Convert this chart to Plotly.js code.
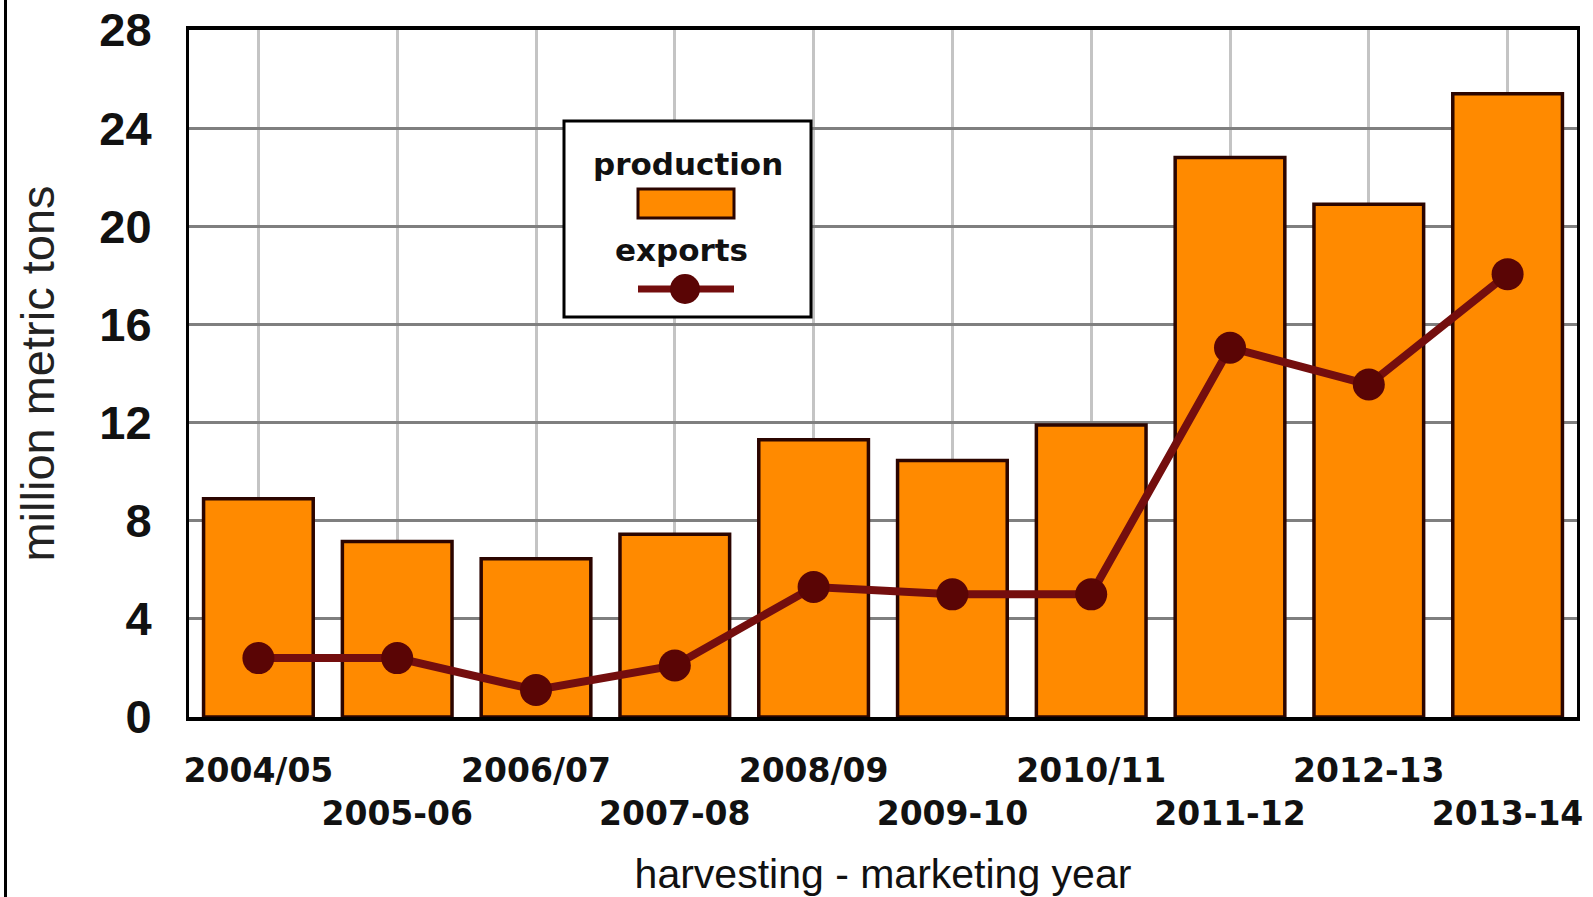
<!DOCTYPE html>
<html>
<head>
<meta charset="utf-8">
<script src="https://cdn.plot.ly/plotly-3.0.1.min.js"></script>
<style>
  html, body { margin: 0; padding: 0; background: #ffffff; }
  #chart { width: 1593px; height: 897px; }
</style>
</head>
<body>
<div id="chart"></div>
<script>
// Marketing years (harvesting - marketing year)
const years = ['2004/05', '2005-06', '2006/07', '2007-08', '2008/09',
               '2009-10', '2010/11', '2011-12', '2012-13', '2013-14'];
// Production, million metric tons
const production = [8.9, 7.15, 6.45, 7.45, 11.3, 10.45, 11.9, 22.8, 20.9, 25.4];
// Exports, million metric tons
const exportsVol = [2.4, 2.4, 1.1, 2.1, 5.3, 5.0, 5.0, 15.05, 13.55, 18.05];
// Y-axis ticks
const yTicks = [0, 4, 8, 12, 16, 20, 24, 28];

// Tick labels alternate between two rows
const tickText = years.map((y, i) => i % 2 === 0 ? y : '\u00a0<br>' + y);

const ORANGE = '#ff8a00';
const OUTLINE = '#2b0500';
const MAROON = '#740e0e';
const MAROON_DARK = '#5a0505';

const bars = {
  type: 'bar',
  name: 'production',
  x: years,
  y: production,
  width: 0.79,
  marker: { color: ORANGE, line: { color: OUTLINE, width: 3.5 } },
  hoverinfo: 'x+y'
};

const line = {
  type: 'scatter',
  mode: 'lines+markers',
  name: 'exports',
  x: years,
  y: exportsVol,
  line: { color: MAROON, width: 8 },
  marker: { color: MAROON_DARK, size: 32 },
  hoverinfo: 'x+y'
};

// Pixel geometry of the plot area
const L = 189, R = 16, T = 30, B = 180, W = 1593, H = 897;
const pw = W - L - R, ph = H - T - B;
const px = v => (v - L) / pw;
const py = v => (H - B - v) / ph;

const legendFont = { family: 'DejaVu Sans, sans-serif', size: 31, color: '#111111', weight: 'bold' };

const layout = {
  width: W,
  height: H,
  margin: { l: L, r: R, t: T, b: B, pad: 0 },
  paper_bgcolor: '#ffffff',
  plot_bgcolor: '#ffffff',
  showlegend: false,
  xaxis: {
    type: 'category',
    range: [-0.5, years.length - 0.5],
    tickmode: 'array',
    tickvals: years,
    ticktext: tickText,
    tickangle: 0,
    ticks: '',
    ticklabelstandoff: 21,
    tickfont: { family: 'DejaVu Sans, sans-serif', size: 33, color: '#111111', weight: 'bold' },
    showgrid: true,
    gridcolor: '#c4c4c4',
    gridwidth: 3,
    showline: true,
    linecolor: '#000000',
    linewidth: 4,
    mirror: true,
    zeroline: false,
    fixedrange: true,
    automargin: false,
    title: {
      text: 'harvesting - marketing year',
      font: { family: 'Liberation Sans, Arial, sans-serif', size: 41, color: '#111111' },
      standoff: 31
    }
  },
  yaxis: {
    range: [0, 28],
    tickmode: 'array',
    tickvals: yTicks,
    ticktext: yTicks.map(String),
    ticks: '',
    ticklabelstandoff: 25,
    tickfont: { family: 'Liberation Sans, Arial, sans-serif', size: 47, color: '#111111', weight: 'bold' },
    showgrid: true,
    gridcolor: '#7f7f7f',
    gridwidth: 3,
    showline: true,
    linecolor: '#000000',
    linewidth: 3,
    mirror: true,
    zeroline: false,
    fixedrange: true,
    automargin: false,
    title: {
      text: 'million metric tons',
      font: { family: 'Liberation Sans, Arial, sans-serif', size: 47, color: '#222222' },
      standoff: 30
    }
  },
  shapes: [
    // left frame line of the figure
    { type: 'line', xref: 'paper', yref: 'paper',
      x0: px(5.5), x1: px(5.5), y0: py(H + 5), y1: py(-5),
      line: { color: '#000000', width: 3 } },
    // legend box
    { type: 'rect', xref: 'paper', yref: 'paper',
      x0: px(564), x1: px(811), y0: py(317), y1: py(121),
      fillcolor: '#ffffff', line: { color: '#000000', width: 3 }, layer: 'above' },
    // production swatch
    { type: 'rect', xref: 'paper', yref: 'paper',
      x0: px(638), x1: px(734), y0: py(218), y1: py(189),
      fillcolor: ORANGE, line: { color: OUTLINE, width: 3 }, layer: 'above' },
    // exports swatch line
    { type: 'line', xref: 'paper', yref: 'paper',
      x0: px(638), x1: px(734), y0: py(289), y1: py(289),
      line: { color: MAROON, width: 7 }, layer: 'above' },
    // exports swatch marker
    { type: 'circle', xref: 'paper', yref: 'paper',
      xsizemode: 'pixel', ysizemode: 'pixel',
      xanchor: px(685), yanchor: py(289),
      x0: -15, x1: 15, y0: -15, y1: 15,
      fillcolor: MAROON_DARK, line: { width: 0 }, layer: 'above' }
  ],
  annotations: [
    { xref: 'paper', yref: 'paper', x: px(688), y: py(164),
      text: 'production', showarrow: false, font: legendFont,
      xanchor: 'center', yanchor: 'middle' },
    { xref: 'paper', yref: 'paper', x: px(681), y: py(250),
      text: 'exports', showarrow: false, font: legendFont,
      xanchor: 'center', yanchor: 'middle' }
  ]
};

Plotly.newPlot('chart', [bars, line], layout, { displayModeBar: false, staticPlot: true });
</script>
</body>
</html>
